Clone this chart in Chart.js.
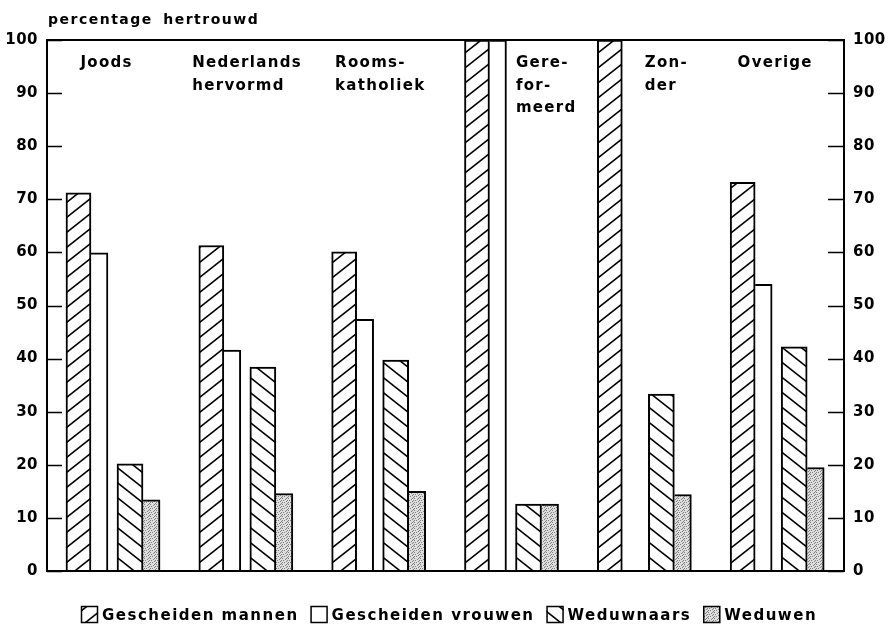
<!DOCTYPE html>
<html>
<head>
<meta charset="utf-8">
<title>Percentage hertrouwd</title>
<script src="https://cdn.jsdelivr.net/npm/chart.js"></script>
<style>
  html, body { margin: 0; padding: 0; background: #fff; }
</style>
</head>
<body>
<canvas id="chart" width="889" height="631"></canvas>
<script>
  // data
  const groupLabels = [['Joods'], ['Nederlands', 'hervormd'], ['Rooms-', 'katholiek'], ['Gere-', 'for-', 'meerd'], ['Zon-', 'der'], ['Overige']];
  const seriesNames = ['Gescheiden mannen', 'Gescheiden vrouwen', 'Weduwnaars', 'Weduwen'];
  const gescheidenMannen = [71.2, 61.3, 60.1, 100, 100, 73.2];
  const gescheidenVrouwen = [59.9, 41.6, 47.4, 100, 0, 54.0];
  const weduwnaars = [20.2, 38.4, 39.7, 12.6, 33.3, 42.2];
  const weduwen = [13.4, 14.6, 15.0, 12.6, 14.4, 19.5];
  const yTitle = 'percentage hertrouwd';

  const FONT = '"DejaVu Sans", sans-serif';

  // bar placement inside a group (fraction of a category width) and widths
  const barShift = [-0.263, -0.105, 0.125, 0.287];
  const barWidth = [25, 17, 26, 17];
  const labelShift = [-33, -54, -44, 4, 0, -40];

  // fill patterns
  function hatch(dir) {
    const w = 19, h = 15;
    const c = document.createElement('canvas');
    c.width = w; c.height = h;
    const g = c.getContext('2d');
    g.fillStyle = '#fff';
    g.fillRect(0, 0, w, h);
    g.strokeStyle = '#000';
    g.lineWidth = 1.6;
    for (const k of [-1, 0, 1]) {
      g.beginPath();
      if (dir === '/') {
        g.moveTo(-w, 2 * h + k * h);
        g.lineTo(2 * w, -h + k * h);
      } else {
        g.moveTo(-w, -h + k * h);
        g.lineTo(2 * w, 2 * h + k * h);
      }
      g.stroke();
    }
    return g.createPattern(c, 'repeat');
  }

  function stipple() {
    const c = document.createElement('canvas');
    c.width = 6; c.height = 6;
    const g = c.getContext('2d');
    g.fillStyle = '#dedede';
    g.fillRect(0, 0, 6, 6);
    const dots = [[0, 0], [3, 1], [1, 2], [4, 3], [2, 4], [5, 5], [0, 4], [4, 0], [5, 2]];
    g.fillStyle = '#808080';
    dots.forEach(([x, y]) => g.fillRect(x, y, 1, 1));
    return g.createPattern(c, 'repeat');
  }

  const fills = [hatch('/'), '#fff', hatch('\\'), stipple()];
  const seriesValues = [gescheidenMannen, gescheidenVrouwen, weduwnaars, weduwen];

  const datasets = seriesValues.map((vals, s) => ({
    label: seriesNames[s],
    data: vals.map((v, i) => ({ x: i, y: v })),
    xAxisID: 'x' + s,
    yAxisID: 'y',
    backgroundColor: fills[s],
    borderColor: '#000',
    borderWidth: s % 2 === 0 ? 2 : { top: 2, right: 2, left: 0, bottom: 0 },
    borderSkipped: 'start',
    barThickness: barWidth[s],
    grouped: false
  }));

  const tickFont = { family: FONT, size: 15, weight: 'bold' };
  const scales = {
    x: { type: 'category', display: false, offset: true },
    y: {
      position: 'left', min: 0, max: 100,
      grid: { display: false, drawTicks: false },
      border: { display: false },
      ticks: { stepSize: 10, padding: 9, color: '#000', font: tickFont },
      afterFit: s => { s.width = 47; }
    },
    y2: {
      position: 'right', min: 0, max: 100,
      grid: { display: false, drawTicks: false },
      border: { display: false },
      ticks: { stepSize: 10, padding: 9, color: '#000', font: tickFont },
      afterFit: s => { s.width = 45; }
    }
  };
  barShift.forEach((sh, s) => {
    scales['x' + s] = { type: 'linear', display: false, offset: false, min: -0.5 - sh, max: 5.5 - sh };
  });

  const decor = {
    id: 'decor',
    beforeDraw(chart) {
      chart.ctx.letterSpacing = '0.5px';
    },
    afterDatasetsDraw(chart) {
      const ctx = chart.ctx;
      const a = chart.chartArea;
      ctx.save();
      ctx.strokeStyle = '#000';
      // inward tick marks
      ctx.lineWidth = 1.5;
      chart.scales.y.ticks.forEach(t => {
        const y = Math.round(chart.scales.y.getPixelForValue(t.value)) + 0.5;
        ctx.beginPath();
        ctx.moveTo(a.left, y); ctx.lineTo(a.left + 15, y);
        ctx.moveTo(a.right - 16, y); ctx.lineTo(a.right, y);
        ctx.stroke();
      });
      // frame
      ctx.lineWidth = 2;
      ctx.strokeRect(a.left, a.top, a.right - a.left, a.bottom - a.top);
      ctx.restore();
    },
    afterDraw(chart) {
      const ctx = chart.ctx;
      const xs = chart.scales.x;
      ctx.save();
      ctx.fillStyle = '#000';
      ctx.textBaseline = 'alphabetic';
      ctx.textAlign = 'left';

      // axis title
      ctx.font = 'bold 14px ' + FONT;
      ctx.letterSpacing = '1.5px';
      ctx.wordSpacing = '4px';
      ctx.fillText(yTitle, 48, 24);
      ctx.wordSpacing = '0px';

      // group names inside the plot
      ctx.font = 'bold 15px ' + FONT;
      ctx.letterSpacing = '1.3px';
      groupLabels.forEach((lines, i) => {
        const x = xs.getPixelForValue(i) + labelShift[i];
        lines.forEach((txt, j) => ctx.fillText(txt, x, 67 + j * 22.5));
      });

      // legend
      ctx.letterSpacing = '1.5px';
      const box = 17, gap = 4, sep = 12;
      const widths = seriesNames.map(n => ctx.measureText(n).width);
      const total = widths.reduce((p, w) => p + box + gap + w, 0) + sep * (seriesNames.length - 1);
      let x = Math.round(449 - total / 2);
      seriesNames.forEach((name, s) => {
        ctx.fillStyle = fills[s];
        ctx.fillRect(x, 606, box, box);
        ctx.strokeStyle = '#000';
        ctx.lineWidth = 1.5;
        ctx.strokeRect(x + 0.5, 606.5, box - 1, box - 1);
        ctx.fillStyle = '#000';
        ctx.fillText(name, x + box + gap, 620);
        x += box + gap + widths[s] + sep;
      });
      ctx.restore();
    }
  };

  new Chart(document.getElementById('chart'), {
    type: 'bar',
    data: { labels: groupLabels, datasets: datasets },
    options: {
      responsive: false,
      animation: false,
      devicePixelRatio: 1,
      layout: { padding: { top: 40, bottom: 60, left: 0, right: 0 } },
      plugins: { legend: { display: false }, tooltip: { enabled: false } },
      scales: scales
    },
    plugins: [decor]
  });
</script>
</body>
</html>
